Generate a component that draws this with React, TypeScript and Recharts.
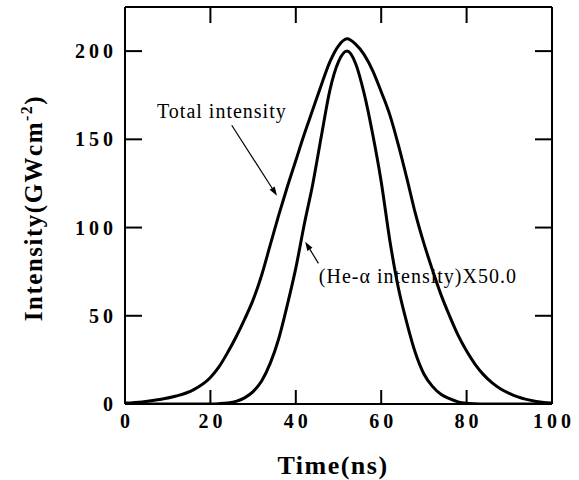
import React from "react";
import {
  LineChart,
  Line,
  XAxis,
  YAxis,
  ReferenceLine,
  ReferenceDot,
} from "recharts";

const timeNs = [
  0, 4, 8, 12, 16, 20, 22, 24, 26, 28, 30, 32, 34, 36, 38, 40, 42, 44, 46, 48, 50,
  52, 54, 56, 58, 60, 62, 64, 66, 68, 70, 72, 74, 76, 78, 80, 82, 84, 86, 88, 90, 92,
  96, 100,
];
const totalIntensity = [
  0.5, 1.2, 2.5, 4.5, 8, 15, 21, 29, 38, 48, 59, 73, 90, 107, 123, 138, 153, 167, 181,
  194, 203, 207, 204, 198, 189, 177, 164, 147, 128, 108, 91, 76, 62, 50, 39, 30, 22.5,
  16.5, 12, 8.5, 6, 4, 1.6, 0.5,
];
const heAlphaIntensity = [
  0, 0, 0, 0, 0, 0, 0.2, 0.6, 1.5, 3.5, 7, 13, 23, 37, 56, 77, 102, 125, 152, 178, 194,
  200, 193, 176, 153, 126, 93, 66, 46, 29, 17, 10, 5.5, 3, 1.2, 0.4, 0.1, 0, 0, 0, 0, 0,
  0, 0,
];
const xTicks = [0, 20, 40, 60, 80, 100];
const yTicks = [0, 50, 100, 150, 200];

const data = timeNs.map((t, i) => ({
  t,
  total: totalIntensity[i],
  heAlpha: heAlphaIntensity[i],
}));

const FONT = '"Liberation Serif", "Times New Roman", serif';

const BottomTick = ({ x, y, payload }: any) => (
  <g>
    <line x1={x} y1={y} x2={x} y2={y - 14} stroke="#000" strokeWidth={2} />
    <text
      x={x + 2}
      y={y + 24}
      textAnchor="middle"
      fontFamily={FONT}
      fontWeight="bold"
      fontSize={20}
      letterSpacing={4}
      fill="#000"
    >
      {payload.value}
    </text>
  </g>
);

const TopTick = ({ x, y, payload }: any) =>
  payload.value === 0 || payload.value === 100 ? <g /> : (
    <line x1={x} y1={y} x2={x} y2={y + 16} stroke="#000" strokeWidth={2} />
  );

const LeftTick = ({ x, y, payload }: any) => (
  <g>
    <line x1={x} y1={y} x2={x + 17} y2={y} stroke="#000" strokeWidth={2} />
    <text
      x={x - 8}
      y={y}
      dy="0.35em"
      textAnchor="end"
      fontFamily={FONT}
      fontWeight="bold"
      fontSize={20}
      letterSpacing={4}
      fill="#000"
    >
      {payload.value}
    </text>
  </g>
);

const RightTick = ({ x, y }: any) => (
  <line x1={x} y1={y} x2={x - 17} y2={y} stroke="#000" strokeWidth={2} />
);

const Arrow = (p: any) => {
  const { x1, y1, x2, y2 } = p;
  const a = Math.atan2(y2 - y1, x2 - x1);
  const len = 9;
  const w = 3;
  const bx = x2 - len * Math.cos(a);
  const by = y2 - len * Math.sin(a);
  const px = -Math.sin(a) * w;
  const py = Math.cos(a) * w;
  return (
    <g>
      <line x1={x1} y1={y1} x2={bx} y2={by} stroke="#000" strokeWidth={1.2} />
      <polygon
        points={`${x2},${y2} ${bx + px},${by + py} ${bx - px},${by - py}`}
        fill="#000"
      />
    </g>
  );
};

const noteText = (value: string) => (p: any) => (
  <text
    x={p.cx}
    y={p.cy}
    fontFamily={FONT}
    fontSize={20}
    letterSpacing={1}
    fill="#000"
  >
    {value}
  </text>
);

export default function App() {
  return (
    <div style={{ position: "absolute", left: 0, top: 0, background: "#fff" }}>
      <LineChart
        width={579}
        height={480}
        data={data}
        margin={{ top: 0, right: 0, bottom: 0, left: 0 }}
      >
        <XAxis
          dataKey="t"
          type="number"
          domain={[0, 100]}
          ticks={xTicks}
          allowDataOverflow
          height={76}
          tickSize={0}
          tickMargin={0}
          axisLine={{ stroke: "#000", strokeWidth: 2 }}
          tick={(props: any) => <BottomTick {...props} />}
          label={{
            content: () => (
              <text
                x={333}
                y={474}
                textAnchor="middle"
                fontFamily={FONT}
                fontWeight="bold"
                fontSize={26}
                letterSpacing={1.5}
                fill="#000"
              >
                Time(ns)
              </text>
            ),
          }}
        />
        <XAxis
          xAxisId="top"
          orientation="top"
          dataKey="t"
          type="number"
          domain={[0, 100]}
          ticks={xTicks}
          allowDataOverflow
          height={7}
          tickSize={0}
          tickMargin={0}
          axisLine={{ stroke: "#000", strokeWidth: 2 }}
          tick={(props: any) => <TopTick {...props} />}
        />
        <YAxis
          type="number"
          domain={[0, 225]}
          ticks={yTicks}
          allowDataOverflow
          width={125}
          tickSize={0}
          tickMargin={0}
          axisLine={{ stroke: "#000", strokeWidth: 2 }}
          tick={(props: any) => <LeftTick {...props} />}
          label={{
            content: () => (
              <text
                transform="translate(42,208) rotate(-90)"
                textAnchor="middle"
                fontFamily={FONT}
                fontWeight="bold"
                fontSize={25}
                letterSpacing={1.5}
                fill="#000"
              >
                Intensity(GWcm
                <tspan dy={-10} fontSize={16}>
                  -2
                </tspan>
                <tspan dy={10}>)</tspan>
              </text>
            ),
          }}
        />
        <YAxis
          yAxisId="right"
          orientation="right"
          type="number"
          domain={[0, 225]}
          ticks={yTicks}
          allowDataOverflow
          width={27}
          tickSize={0}
          tickMargin={0}
          axisLine={{ stroke: "#000", strokeWidth: 2 }}
          tick={(props: any) => <RightTick {...props} />}
        />
        <Line
          dataKey="total"
          type="monotone"
          stroke="#000"
          strokeWidth={3}
          dot={false}
          isAnimationActive={false}
        />
        <Line
          dataKey="heAlpha"
          type="monotone"
          stroke="#000"
          strokeWidth={3}
          dot={false}
          isAnimationActive={false}
        />
        <ReferenceLine
          segment={[
            { x: 25, y: 158 },
            { x: 35.6, y: 118 },
          ]}
          shape={(p: any) => <Arrow {...p} />}
        />
        <ReferenceLine
          segment={[
            { x: 45.3, y: 79.7 },
            { x: 42.2, y: 92 },
          ]}
          shape={(p: any) => <Arrow {...p} />}
        />
        <ReferenceDot x={7.5} y={162} r={0} shape={noteText("Total intensity")} />
        <ReferenceDot
          x={45.4}
          y={68.5}
          r={0}
          shape={noteText("(He-α intensity)X50.0")}
        />
      </LineChart>
    </div>
  );
}
